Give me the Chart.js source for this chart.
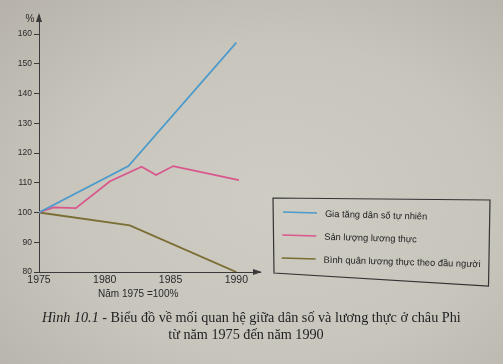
<!DOCTYPE html>
<html>
<head>
<meta charset="utf-8">
<script src="https://cdn.jsdelivr.net/npm/chart.js@4.4.1/dist/chart.umd.min.js"></script>
<style>
  html, body { margin: 0; padding: 0; }
  body {
    width: 503px; height: 364px; overflow: hidden; position: relative;
    background: radial-gradient(ellipse at 55% 55%, #cfccc4 0%, #c8c5bd 55%, #b6b2aa 100%);
  }
  #wrap { position: absolute; left: 0; top: 0; width: 503px; height: 364px; }
  .note { position: absolute; font-family: "Liberation Sans", Arial, sans-serif; font-size: 10px; color: #2a2a2a; }
  .cap { position: absolute; font-family: "Liberation Serif", "Times New Roman", serif; font-size: 14.2px; color: #1e1e1e; white-space: nowrap; }
</style>
</head>
<body>
<div id="wrap"><canvas id="lineChart" width="503" height="364"></canvas></div>
<div class="note" style="left:98px; top:288px;">Năm 1975 =100%</div>
<div class="cap" style="left:42px; top:309px;"><i>Hình 10.1</i> - Biểu đồ về mối quan hệ giữa dân số và lương thực ở châu Phi</div>
<div class="cap" style="left:0; width:492px; text-align:center; top:326px;">từ năm 1975 đến năm 1990</div>
<script>
    // values (1975 = 100%)
    var popYears = [1975, 1981.8, 1990];
    var popValues = [100, 115.6, 157.1];
    var foodYears = [1975, 1976.1, 1977.8, 1980.4, 1982.8, 1983.9, 1985.2, 1990.2];
    var foodValues = [100, 101.7, 101.5, 110.5, 115.4, 112.6, 115.6, 110.9];
    var perCapYears = [1975, 1981.9, 1990];
    var perCapValues = [100, 95.7, 80];
    var seriesNames = ['Gia tăng dân số tự nhiên', 'Sản lượng lương thực', 'Bình quân lương thực theo đầu người'];
    var seriesColors = ['#4b9acb', '#d9568c', '#7a6e33'];
    var xTicks = [1975, 1980, 1985, 1990];
    var yTicks = [80, 90, 100, 110, 120, 130, 140, 150, 160];

    function points(xs, ys) {
        return xs.map(function(x, i) { return { x: x, y: ys[i] }; });
    }

    var axisColor = '#3a3a3a';

    // arrows, % sign and the framed legend
    var decor = {
        id: 'decor',
        afterDraw: function(chart) {
            var ctx = chart.ctx;
            var a = chart.chartArea;
            ctx.save();
            ctx.fillStyle = axisColor;
            ctx.beginPath();
            ctx.moveTo(a.left, a.top - 2);
            ctx.lineTo(a.left - 3, a.top + 7);
            ctx.lineTo(a.left + 3, a.top + 7);
            ctx.fill();
            ctx.beginPath();
            ctx.moveTo(a.right + 2, a.bottom);
            ctx.lineTo(a.right - 7, a.bottom - 3);
            ctx.lineTo(a.right - 7, a.bottom + 3);
            ctx.fill();
            ctx.font = '10px "Liberation Sans", Arial, sans-serif';
            ctx.textAlign = 'center';
            ctx.textBaseline = 'middle';
            ctx.fillStyle = '#2a2a2a';
            ctx.fillText('%', 30, 19);

            // legend box (slightly skewed like the photo)
            ctx.strokeStyle = '#333';
            ctx.lineWidth = 1.2;
            ctx.beginPath();
            ctx.moveTo(273, 198);
            ctx.lineTo(490, 200);
            ctx.lineTo(488.5, 286);
            ctx.lineTo(274, 273);
            ctx.closePath();
            ctx.stroke();

            ctx.translate(283, 212);
            ctx.rotate(0.028);
            ctx.textAlign = 'left';
            ctx.font = '9.3px "Liberation Sans", Arial, sans-serif';
            for (var i = 0; i < seriesNames.length; i++) {
                var y = i * 23;
                ctx.strokeStyle = seriesColors[i];
                ctx.lineWidth = 1.6;
                ctx.beginPath();
                ctx.moveTo(0, y);
                ctx.lineTo(34, y);
                ctx.stroke();
                ctx.fillStyle = '#222';
                ctx.fillText(seriesNames[i], 42, y + 1);
            }
            ctx.restore();
        }
    };

    var ctxLine = document.getElementById('lineChart').getContext('2d');
    var lineChart = new Chart(ctxLine, {
        type: 'line',
        data: {
            datasets: [{
                label: seriesNames[0],
                data: points(popYears, popValues),
                borderColor: seriesColors[0],
                borderWidth: 1.7
            }, {
                label: seriesNames[1],
                data: points(foodYears, foodValues),
                borderColor: seriesColors[1],
                borderWidth: 1.7
            }, {
                label: seriesNames[2],
                data: points(perCapYears, perCapValues),
                borderColor: seriesColors[2],
                borderWidth: 1.9
            }]
        },
        options: {
            responsive: false,
            animation: false,
            elements: { point: { radius: 0 }, line: { tension: 0 } },
            layout: { padding: { left: 0, right: 243, top: 15, bottom: 72 } },
            plugins: { legend: { display: false }, tooltip: { enabled: false } },
            scales: {
                x: {
                    type: 'linear',
                    min: 1975,
                    max: 1991.8,
                    afterFit: function(s) { s.height = 20; },
                    afterBuildTicks: function(s) { s.ticks = xTicks.map(function(v) { return { value: v }; }); },
                    grid: { display: false, drawTicks: false },
                    border: { color: axisColor, width: 1 },
                    ticks: {
                        padding: 2,
                        color: '#2a2a2a',
                        font: { family: '"Liberation Sans", Arial, sans-serif', size: 10.5 },
                        callback: function(v) { return String(v); }
                    }
                },
                y: {
                    min: 80,
                    max: 166.4,
                    afterFit: function(s) { s.width = 39; },
                    afterBuildTicks: function(s) { s.ticks = yTicks.map(function(v) { return { value: v }; }); },
                    grid: { drawOnChartArea: false, tickLength: 5, color: axisColor },
                    border: { color: axisColor, width: 1 },
                    ticks: {
                        padding: 2,
                        color: '#2a2a2a',
                        font: { family: '"Liberation Sans", Arial, sans-serif', size: 8.5 }
                    }
                }
            }
        },
        plugins: [decor]
    });
</script>
</body>
</html>
